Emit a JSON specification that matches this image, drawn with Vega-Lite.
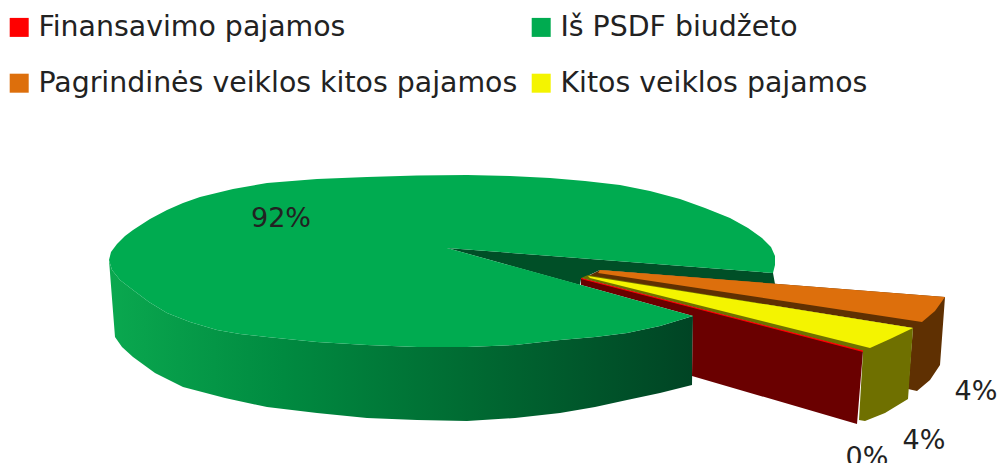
{
"$schema":"https://vega.github.io/schema/vega-lite/v6.json",
"width":999,"height":463,"autosize":{"type":"none"},"padding":0,
"background":"white","view":{"stroke":null},
"datasets":{
"sides":[
{"piece":"inner","i":1,"u":447,"v":248},{"piece":"inner","i":2,"u":773,"v":273},{"piece":"inner","i":3,"u":775,"v":284},{"piece":"inner","i":4,"u":600,"v":270},{"piece":"inner","i":5,"u":581,"v":279},{"piece":"inner","i":6,"u":580,"v":285},
{"piece":"brown","i":1,"u":600,"v":270},{"piece":"brown","i":2,"u":945,"v":297},{"piece":"brown","i":3,"u":940,"v":365},{"piece":"brown","i":4,"u":930,"v":380},{"piece":"brown","i":5,"u":917,"v":391},{"piece":"brown","i":6,"u":908,"v":389},{"piece":"brown","i":7,"u":913,"v":328},{"piece":"brown","i":8,"u":588,"v":276},
{"piece":"olive","i":1,"u":588,"v":275},{"piece":"olive","i":2,"u":913,"v":328},{"piece":"olive","i":3,"u":908,"v":399},{"piece":"olive","i":4,"u":885,"v":413},{"piece":"olive","i":5,"u":865,"v":421},{"piece":"olive","i":6,"u":859,"v":420},{"piece":"olive","i":7,"u":863,"v":351},{"piece":"olive","i":8,"u":581,"v":278},
{"piece":"darkred","i":1,"u":581,"v":278},{"piece":"darkred","i":2,"u":863,"v":351},{"piece":"darkred","i":3,"u":857,"v":424},{"piece":"darkred","i":4,"u":692,"v":376},{"piece":"darkred","i":5,"u":693,"v":316},{"piece":"darkred","i":6,"u":581,"v":285}
],
"greenside":[
{"i":1,"u":109,"v":260},{"i":2,"u":112,"v":270},{"i":3,"u":120,"v":280},{"i":4,"u":133,"v":290},{"i":5,"u":149,"v":302},{"i":6,"u":167,"v":313},{"i":7,"u":190,"v":322},{"i":8,"u":217,"v":330},{"i":9,"u":240,"v":334},{"i":10,"u":267,"v":337},{"i":11,"u":317,"v":342},{"i":12,"u":367,"v":345},{"i":13,"u":417,"v":347},{"i":14,"u":467,"v":347},{"i":15,"u":515,"v":345},{"i":16,"u":560,"v":340},{"i":17,"u":595,"v":337},{"i":18,"u":627,"v":333},{"i":19,"u":660,"v":326},{"i":20,"u":693,"v":316},
{"i":21,"u":692,"v":385},{"i":22,"u":660,"v":393},{"i":23,"u":627,"v":400},{"i":24,"u":595,"v":407},{"i":25,"u":560,"v":413},{"i":26,"u":515,"v":418},{"i":27,"u":467,"v":421},{"i":28,"u":417,"v":420},{"i":29,"u":367,"v":418},{"i":30,"u":317,"v":413},{"i":31,"u":267,"v":407},{"i":32,"u":225,"v":398},{"i":33,"u":183,"v":387},{"i":34,"u":155,"v":373},{"i":35,"u":133,"v":357},{"i":36,"u":122,"v":347},{"i":37,"u":115,"v":337}
],
"tops":[
{"series":"Iš PSDF biudžeto","i":1,"u":447,"v":248},{"series":"Iš PSDF biudžeto","i":2,"u":693,"v":316},{"series":"Iš PSDF biudžeto","i":3,"u":660,"v":326},{"series":"Iš PSDF biudžeto","i":4,"u":627,"v":333},{"series":"Iš PSDF biudžeto","i":5,"u":595,"v":337},{"series":"Iš PSDF biudžeto","i":6,"u":560,"v":340},{"series":"Iš PSDF biudžeto","i":7,"u":515,"v":345},{"series":"Iš PSDF biudžeto","i":8,"u":467,"v":347},{"series":"Iš PSDF biudžeto","i":9,"u":417,"v":347},{"series":"Iš PSDF biudžeto","i":10,"u":367,"v":345},{"series":"Iš PSDF biudžeto","i":11,"u":317,"v":342},{"series":"Iš PSDF biudžeto","i":12,"u":267,"v":337},{"series":"Iš PSDF biudžeto","i":13,"u":240,"v":334},{"series":"Iš PSDF biudžeto","i":14,"u":217,"v":330},{"series":"Iš PSDF biudžeto","i":15,"u":190,"v":322},{"series":"Iš PSDF biudžeto","i":16,"u":167,"v":313},{"series":"Iš PSDF biudžeto","i":17,"u":149,"v":302},{"series":"Iš PSDF biudžeto","i":18,"u":133,"v":290},{"series":"Iš PSDF biudžeto","i":19,"u":120,"v":280},{"series":"Iš PSDF biudžeto","i":20,"u":112,"v":270},{"series":"Iš PSDF biudžeto","i":21,"u":109,"v":260},{"series":"Iš PSDF biudžeto","i":22,"u":111,"v":252},{"series":"Iš PSDF biudžeto","i":23,"u":117,"v":244},{"series":"Iš PSDF biudžeto","i":24,"u":125,"v":236},{"series":"Iš PSDF biudžeto","i":25,"u":133,"v":230},{"series":"Iš PSDF biudžeto","i":26,"u":150,"v":219},{"series":"Iš PSDF biudžeto","i":27,"u":167,"v":210},{"series":"Iš PSDF biudžeto","i":28,"u":183,"v":203},{"series":"Iš PSDF biudžeto","i":29,"u":200,"v":197},{"series":"Iš PSDF biudžeto","i":30,"u":233,"v":189},{"series":"Iš PSDF biudžeto","i":31,"u":267,"v":183},{"series":"Iš PSDF biudžeto","i":32,"u":317,"v":179},{"series":"Iš PSDF biudžeto","i":33,"u":367,"v":177},{"series":"Iš PSDF biudžeto","i":34,"u":417,"v":175.5},{"series":"Iš PSDF biudžeto","i":35,"u":467,"v":175},{"series":"Iš PSDF biudžeto","i":36,"u":510,"v":176},{"series":"Iš PSDF biudžeto","i":37,"u":550,"v":178},{"series":"Iš PSDF biudžeto","i":38,"u":585,"v":181},{"series":"Iš PSDF biudžeto","i":39,"u":620,"v":185},{"series":"Iš PSDF biudžeto","i":40,"u":650,"v":191},{"series":"Iš PSDF biudžeto","i":41,"u":680,"v":199},{"series":"Iš PSDF biudžeto","i":42,"u":705,"v":208},{"series":"Iš PSDF biudžeto","i":43,"u":730,"v":218},{"series":"Iš PSDF biudžeto","i":44,"u":748,"v":228},{"series":"Iš PSDF biudžeto","i":45,"u":762,"v":238},{"series":"Iš PSDF biudžeto","i":46,"u":771,"v":247},{"series":"Iš PSDF biudžeto","i":47,"u":775,"v":256},{"series":"Iš PSDF biudžeto","i":48,"u":775,"v":265},{"series":"Iš PSDF biudžeto","i":49,"u":773,"v":273},
{"series":"Pagrindinės veiklos kitos pajamos","i":1,"u":600,"v":270},{"series":"Pagrindinės veiklos kitos pajamos","i":2,"u":945,"v":297},{"series":"Pagrindinės veiklos kitos pajamos","i":3,"u":935,"v":311},{"series":"Pagrindinės veiklos kitos pajamos","i":4,"u":922,"v":322},{"series":"Pagrindinės veiklos kitos pajamos","i":5,"u":598,"v":273},
{"series":"Kitos veiklos pajamos","i":1,"u":588,"v":276},{"series":"Kitos veiklos pajamos","i":2,"u":913,"v":328},{"series":"Kitos veiklos pajamos","i":3,"u":890,"v":339},{"series":"Kitos veiklos pajamos","i":4,"u":870,"v":348},{"series":"Kitos veiklos pajamos","i":5,"u":590,"v":278},
{"series":"Finansavimo pajamos","i":1,"u":581,"v":278},{"series":"Finansavimo pajamos","i":2,"u":863,"v":350.5},{"series":"Finansavimo pajamos","i":3,"u":863,"v":352},{"series":"Finansavimo pajamos","i":4,"u":581,"v":279}
],
"labels":[
{"text":"92%","u":281,"v":219},{"text":"4%","u":976,"v":392},{"text":"4%","u":924,"v":441},{"text":"0%","u":867,"v":458}
]},
"encoding":{
"x":{"field":"u","type":"quantitative","scale":{"domain":[0,999]},"axis":null},
"y":{"field":"v","type":"quantitative","scale":{"domain":[463,0]},"axis":null}
},
"layer":[
{"data":{"name":"greenside"},"mark":{"type":"line","filled":true,"strokeWidth":0,"fill":{"gradient":"linear","x1":0,"x2":1,"y1":0,"y2":0,"stops":[{"offset":0,"color":"#0aa84f"},{"offset":0.3,"color":"#008a40"},{"offset":0.62,"color":"#006a32"},{"offset":1,"color":"#004424"}]}},"encoding":{"order":{"field":"i","type":"quantitative"}}},
{"data":{"name":"sides"},"mark":{"type":"line","filled":true,"strokeWidth":0},
 "encoding":{"detail":{"field":"piece"},"order":{"field":"i","type":"quantitative"},
 "fill":{"field":"piece","type":"nominal","legend":null,"scale":{"domain":["inner","brown","olive","darkred"],"range":["#004f27","#5f3002","#6f7000","#6a0000"]}}}},
{"data":{"name":"tops"},"mark":{"type":"line","filled":true,"strokeWidth":0},
 "encoding":{"detail":{"field":"series"},"order":{"field":"i","type":"quantitative"},
 "color":{"field":"series","type":"nominal","scale":{"domain":["Finansavimo pajamos","Pagrindinės veiklos kitos pajamos","Iš PSDF biudžeto","Kitos veiklos pajamos"],"range":["#ff0000","#dd6f0c","#00ab50","#f4f400"]},
 "legend":{"title":null,"orient":"none","legendX":5,"legendY":13,"columns":2,"columnPadding":9,"rowPadding":27,"symbolType":"square","symbolSize":361,"symbolStrokeWidth":0,"labelFont":"DejaVu Sans","labelFontSize":28.4,"labelColor":"#222222","labelLimit":700,"labelOffset":5,"gridAlign":"each"}}}},
{"data":{"name":"labels"},"mark":{"type":"text","font":"DejaVu Sans","fontSize":27,"color":"#222222"},"encoding":{"text":{"field":"text"}}}
],
"resolve":{"scale":{"fill":"independent"}}
}
